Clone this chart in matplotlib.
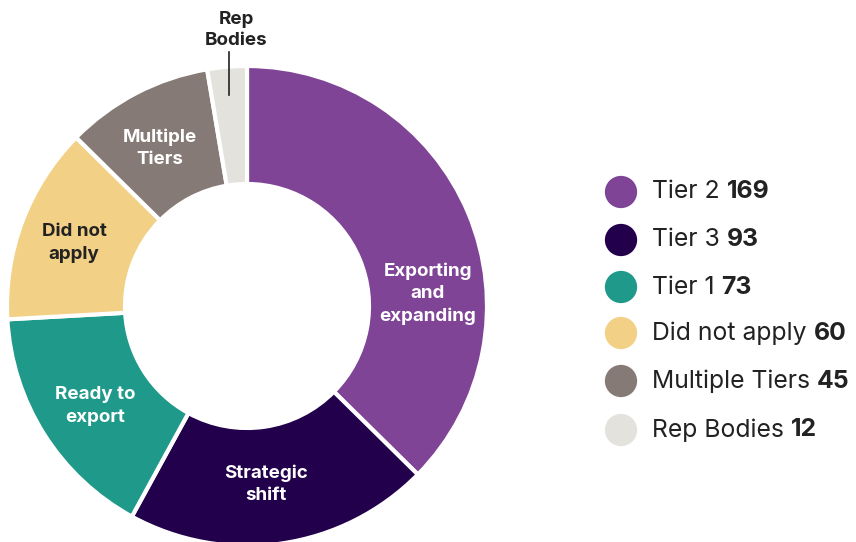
import matplotlib
matplotlib.use('Agg')
from matplotlib import pyplot as plt

# data
categories = ['Tier 2', 'Tier 3', 'Tier 1', 'Did not apply', 'Multiple Tiers', 'Rep Bodies']
values = [169, 93, 73, 60, 45, 12]
ring_labels = ['Exporting\nand\nexpanding', 'Strategic\nshift', 'Ready to\nexport',
               'Did not\napply', 'Multiple\nTiers', 'Rep\nBodies']
colors = ['#7f4496', '#22004b', '#1f9a8a', '#f2d086', '#857a75', '#e4e2dd']
label_colors = ['white', 'white', 'white', '#222222', 'white', '#222222']

plt.rcParams['font.family'] = ['Inter', 'DejaVu Sans']

fig = plt.figure(figsize=(8.56, 5.42), dpi=100)
ax = fig.add_axes([0, 0, 1, 1])

cx, cy, r = 247, 236, 240
wedges, _ = ax.pie(values, colors=colors, startangle=90, counterclock=False,
                   center=(cx, cy), radius=r, frame=True,
                   wedgeprops=dict(width=118, edgecolor='white', linewidth=3))
ax.set_xlim(0, 856)
ax.set_ylim(0, 542)
ax.set_aspect('equal')
ax.axis('off')

# labels inside the ring
label_pos = [(428, 248), (266, 58), (95, 136), (74, 299), (160, 394)]
for (x, y), txt, c in zip(label_pos, ring_labels[:5], label_colors[:5]):
    ax.text(x, y, txt, ha='center', va='center', color=c, fontsize=13.5,
            fontweight='bold', linespacing=1.4)

# rep bodies sits outside with a leader line
ax.text(236, 512, ring_labels[5], ha='center', va='center', color='#222222',
        fontsize=13.5, fontweight='bold', linespacing=1.35)
ax.plot([229, 229], [490, 447], color='#222222', lw=1.2)

# legend
fig.canvas.draw()
renderer = fig.canvas.get_renderer()
leg_y = [350, 302, 255, 209, 161, 112]
for cat, val, col, y in zip(categories, values, colors, leg_y):
    ax.scatter([621], [y], s=540, color=col, edgecolors='none')
    t = ax.text(652, y, cat + ' ', ha='left', va='center', fontsize=17.8,
                color='#222222')
    bb = t.get_window_extent(renderer=renderer)
    x_end = ax.transData.inverted().transform((bb.x1, bb.y0))[0]
    ax.text(x_end, y, str(val), ha='left', va='center', fontsize=17.8,
            fontweight='bold', color='#222222')

fig.savefig('out.png', dpi=100)
